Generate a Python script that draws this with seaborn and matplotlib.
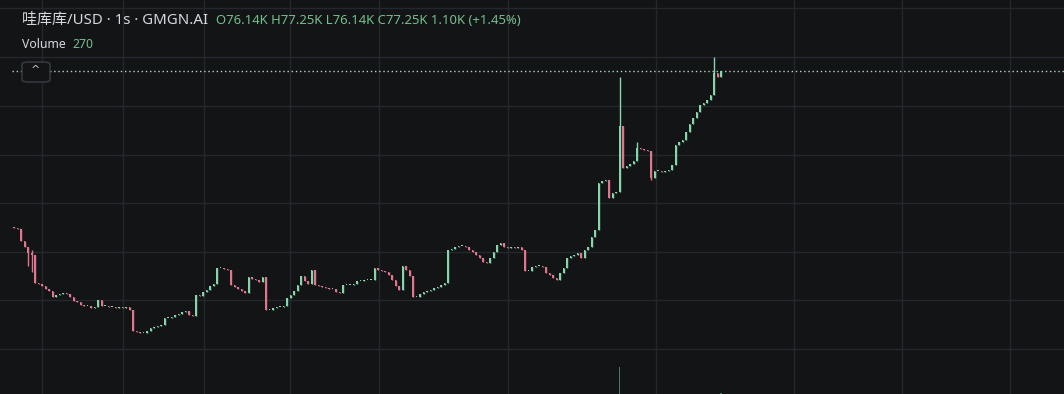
import matplotlib
matplotlib.use("Agg")
import matplotlib.pyplot as plt
from matplotlib.patches import FancyBboxPatch
import seaborn as sns

# ---------------- data (prices in K USD, 1s candles) ----------------
first_open = 61.65
closes = [
    61.55, 61.45, 60.25, 59.65, 59.05, 58.85, 56.05, 55.95, 55.75, 55.45,
    55.25, 54.65, 54.85, 54.95, 55.05, 54.95, 54.65, 54.25, 54.15, 53.85,
    53.75, 53.75, 53.55, 53.65, 54.35, 53.75, 53.75, 53.65, 53.65, 53.55,
    53.65, 53.55, 53.65, 53.35, 51.25, 51.15, 51.05, 51.05, 51.25, 51.55,
    51.65, 51.75, 51.85, 52.55, 52.55, 52.65, 52.85, 52.95, 53.15, 53.25,
    52.85, 52.75, 54.85, 54.75, 55.15, 55.35, 55.75, 55.95, 57.55, 57.55,
    57.45, 57.35, 55.85, 55.65, 55.45, 55.25, 55.05, 56.65, 56.45, 56.35,
    56.15, 56.65, 53.35, 53.35, 53.55, 53.65, 53.65, 53.75, 54.55, 54.85,
    55.25, 55.85, 56.75, 56.25, 55.95, 57.35, 55.85, 55.75, 55.65, 55.55,
    55.45, 55.45, 55.15, 55.05, 55.85, 55.85, 55.85, 55.95, 56.25, 56.25,
    56.35, 56.35, 56.35, 57.55, 57.35, 57.25, 57.15, 56.85, 56.35, 55.75,
    55.35, 57.75, 57.35, 56.75, 54.65, 54.65, 54.95, 55.15, 55.25, 55.35,
    55.55, 55.65, 55.85, 56.05, 59.35, 59.45, 59.65, 59.75, 59.75, 59.65,
    59.35, 59.15, 58.85, 58.55, 58.15, 58.05, 58.55, 59.15, 59.85, 60.05,
    59.65, 59.55, 59.65, 59.55, 59.65, 59.35, 57.25, 57.25, 57.65, 57.75,
    57.75, 57.65, 57.05, 56.85, 56.55, 56.35, 57.05, 57.55, 58.55, 58.75,
    58.85, 59.05, 58.55, 59.35, 59.65, 60.65, 61.35, 66.05, 66.25, 66.35,
    64.55, 65.05, 65.15, 71.75, 67.55, 67.75, 67.95, 68.25, 69.55, 69.45,
    69.35, 69.25, 66.55, 67.25, 67.25, 67.15, 67.25, 67.35, 67.85, 69.85,
    70.15, 70.35, 71.15, 71.95, 72.55, 73.15, 73.85, 74.05, 74.35, 74.85,
    77.05, 76.65, 77.25,
]
wick_high = {4: 59.65, 5: 59.35, 173: 76.65, 178: 70.15, 200: 78.65}
wick_low = {4: 57.75, 5: 57.15, 182: 66.35}

vol_index = [173, 202]
vol_values = [9800, 270]

price_grid = [49.45, 54.35, 59.15, 64.05, 68.85, 73.75, 78.65, 83.55]
time_grid = [8.0, 31.1, 54.3, 78.9, 104.3, 141.1, 183.4, 222.9, 253.7, 284.6]

title_text = "哇库库/USD · 1s · GMGN.AI"
ohlc_text = "O76.14K H77.25K L76.14K C77.25K 1.10K (+1.45%)"
vol_label = "Volume"
vol_value_text = "270"

# ---------------- style ----------------
BG = "#131416"
GRID = "#24272c"
UP = "#86d6ac"
DOWN = "#e0778f"
TXT = "#d6d8de"
GREEN_TXT = "#72c08f"

sns.set_theme(style="dark", rc={
    "axes.facecolor": BG, "figure.facecolor": BG,
    "axes.edgecolor": BG, "grid.color": GRID,
})
plt.rcParams["font.family"] = ["Noto Sans", "Noto Sans CJK SC", "DejaVu Sans"]

fig = plt.figure(figsize=(10.64, 3.94), dpi=100)
ax = fig.add_axes([0, 0, 1, 1])
ax.set_facecolor(BG)
ax.set_xlim(-4, 300)
ax.set_ylim(44.95, 84.35)

# grid
ax.set_xticks(time_grid)
ax.set_yticks(price_grid)
ax.grid(True, color=GRID, lw=1)
ax.tick_params(length=0, labelbottom=False, labelleft=False)
sns.despine(ax=ax, left=True, bottom=True)

# candles
opens = [first_open] + closes[:-1]
for i, (o, c) in enumerate(zip(opens, closes)):
    h = max(o, c, wick_high.get(i, -1e9))
    l = min(o, c, wick_low.get(i, 1e9))
    col = UP if c >= o else DOWN
    ax.vlines(i, l, h, color=col, lw=1.0, zorder=3)
    body = c - o
    if abs(body) < 0.1:
        body = 0.1 if body >= 0 else -0.1
    ax.bar(i, body, bottom=o, width=0.55, color=col, edgecolor="none", zorder=4)

# volume pane (bottom)
axv = fig.add_axes([0, 0, 1, 0.2], sharex=ax)
axv.patch.set_alpha(0)
axv.set_ylim(0, 9800 * 78 / 27)
axv.bar(vol_index, vol_values, width=0.45, color="#5f8f73", edgecolor="none", alpha=0.8)
axv.set_xlim(-4, 300)
axv.axis("off")

# last price dotted line
ax.plot([-4 + 12 / 3.5, 300], [closes[-1], closes[-1]], color="#a9dcc0",
        lw=1.0, linestyle=(0, (1, 2)), zorder=2)

# header texts
fig.text(22 / 1064, 1 - 20 / 394, title_text, color=TXT, fontsize=10.8,
         va="center", ha="left")
fig.text(216 / 1064, 1 - 20 / 394, ohlc_text, color=GREEN_TXT, fontsize=9.4,
         va="center", ha="left", fontweight="medium")
fig.text(22 / 1064, 1 - 44 / 394, vol_label, color=TXT, fontsize=8.8,
         va="center", ha="left")
fig.text(72 / 1064, 1 - 44 / 394, vol_value_text, color=GREEN_TXT, fontsize=8.8,
         va="center", ha="left")

# collapse button
btn = FancyBboxPatch((22 / 1064, 1 - 82 / 394), 28 / 1064, 20 / 394,
                     boxstyle="round,pad=0,rounding_size=0.006",
                     transform=fig.transFigure, facecolor=BG,
                     edgecolor="#3b3e46", lw=1, zorder=10)
fig.patches.append(btn)
fig.text(36 / 1064, 1 - 70 / 394, "^", color="#c4c7cf", fontsize=8,
         ha="center", va="center", family=["DejaVu Sans"], zorder=11)

fig.savefig("out.png", dpi=100, facecolor=BG)
